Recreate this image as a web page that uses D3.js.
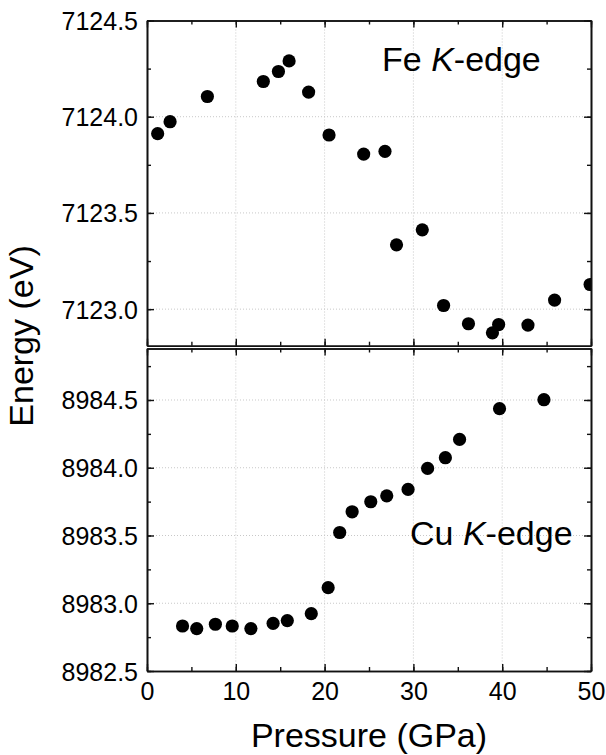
<!DOCTYPE html>
<html>
<head>
<meta charset="utf-8">
<script src="https://cdn.jsdelivr.net/npm/d3@7"></script>
<style>
  body { margin: 0; background: #fff; }
  text { font-family: "Liberation Sans", Arial, sans-serif; fill: #000; }
</style>
</head>
<body>
<div class="diagram"></div>
<script>
var width = 606, height = 755;

// DATA
var fePressure = [1.2, 2.6, 6.8, 13.1, 14.8, 16.0, 18.2, 20.5, 24.4, 26.8, 28.1, 31.0, 33.4, 36.2, 38.9, 39.6, 42.9, 45.9, 49.9];
var feEnergy = [7123.912, 7123.974, 7124.105, 7124.183, 7124.235, 7124.290, 7124.128, 7123.905, 7123.806, 7123.820,
                7123.334, 7123.412, 7123.019, 7122.924, 7122.877, 7122.920, 7122.917, 7123.047, 7123.128];

var cuPressure = [4.0, 5.6, 7.7, 9.6, 11.7, 14.2, 15.8, 18.5, 20.4, 21.7, 23.1, 25.2, 27.0, 29.4, 31.6, 33.6, 35.2, 39.7, 44.7];
var cuEnergy = [8982.832, 8982.813, 8982.845, 8982.832, 8982.813, 8982.852, 8982.872, 8982.923, 8983.115, 8983.522,
                8983.675, 8983.749, 8983.793, 8983.840, 8983.995, 8984.074, 8984.209, 8984.436, 8984.502];

var xTicks = [0, 10, 20, 30, 40, 50];
var feTicks = [7123.0, 7123.5, 7124.0, 7124.5];
var cuTicks = [8982.5, 8983.0, 8983.5, 8984.0, 8984.5];

var left = 147, right = 591;

var svg = d3.select('.diagram')
  .append('svg')
  .attr('width', width)
  .attr('height', height);

var x = d3.scaleLinear().domain([0, 50]).range([left, right]);

var yFe = d3.scaleLinear().domain([7122.81, 7124.5]).range([345.7, 20.5]);
var yCu = d3.scaleLinear().domain([8982.5, 8984.88]).range([671, 348.5]);

function panel (name, y, px, py, majorY, showX) {
  var top = y.range()[1], bottom = y.range()[0];
  var g = svg.append('g').attr('class', 'panel-' + name);

  g.append('clipPath')
    .attr('id', 'clip-' + name)
    .append('rect')
    .attr('x', left).attr('y', top)
    .attr('width', right - left).attr('height', bottom - top);

  // grid
  g.selectAll('.vgrid')
    .data(xTicks.slice(1, -1))
    .enter()
    .append('line')
    .attr('x1', function(d) { return x(d); })
    .attr('x2', function(d) { return x(d); })
    .attr('y1', top).attr('y2', bottom)
    .attr('stroke', '#c8c8c8')
    .attr('stroke-width', 1)
    .attr('stroke-dasharray', '1,2');

  g.selectAll('.hgrid')
    .data(majorY.filter(function(d) { return y(d) > top + 1 && y(d) < bottom - 1; }))
    .enter()
    .append('line')
    .attr('x1', left).attr('x2', right)
    .attr('y1', function(d) { return y(d); })
    .attr('y2', function(d) { return y(d); })
    .attr('stroke', '#c8c8c8')
    .attr('stroke-width', 1)
    .attr('stroke-dasharray', '1,2');

  // points
  g.append('g')
    .attr('clip-path', 'url(#clip-' + name + ')')
    .selectAll('circle')
    .data(px)
    .enter()
    .append('circle')
    .attr('cx', function(d) { return x(d); })
    .attr('cy', function(d, i) { return y(py[i]); })
    .attr('r', 6.6)
    .attr('fill', '#000');

  // axes, ticks pointing inside
  var xMinor = d3.range(0, 51, 5);
  var yMinor = d3.range(y.domain()[0], y.domain()[1], 0.25).map(function(d) { return d; });
  yMinor = d3.range(Math.ceil(y.domain()[0] * 4) / 4, y.domain()[1] + 0.001, 0.25);

  g.append('g')
    .attr('transform', 'translate(0,' + bottom + ')')
    .call(d3.axisBottom(x).tickValues(xMinor).tickSizeInner(-4).tickSizeOuter(0).tickFormat(''));
  g.append('g')
    .attr('transform', 'translate(0,' + bottom + ')')
    .call(d3.axisBottom(x).tickValues(xTicks).tickSizeInner(-7).tickSizeOuter(0)
      .tickFormat(showX ? d3.format('d') : ''));
  g.append('g')
    .attr('transform', 'translate(0,' + top + ')')
    .call(d3.axisTop(x).tickValues(xMinor).tickSizeInner(-4).tickSizeOuter(0).tickFormat(''));
  g.append('g')
    .attr('transform', 'translate(0,' + top + ')')
    .call(d3.axisTop(x).tickValues(xTicks).tickSizeInner(-7).tickSizeOuter(0).tickFormat(''));

  g.append('g')
    .attr('transform', 'translate(' + left + ',0)')
    .call(d3.axisLeft(y).tickValues(yMinor).tickSizeInner(-4).tickSizeOuter(0).tickFormat(''));
  g.append('g')
    .attr('class', 'yaxis')
    .attr('transform', 'translate(' + left + ',0)')
    .call(d3.axisLeft(y).tickValues(majorY).tickSizeInner(-7).tickSizeOuter(0).tickFormat(d3.format('.1f')));
  g.append('g')
    .attr('transform', 'translate(' + right + ',0)')
    .call(d3.axisRight(y).tickValues(yMinor).tickSizeInner(-4).tickSizeOuter(0).tickFormat(''));
  g.append('g')
    .attr('transform', 'translate(' + right + ',0)')
    .call(d3.axisRight(y).tickValues(majorY).tickSizeInner(-7).tickSizeOuter(0).tickFormat(''));

  g.selectAll('.domain').attr('stroke', '#111').attr('stroke-width', 1.6);
  g.selectAll('.tick line').attr('stroke', '#111').attr('stroke-width', 1.4);
  g.selectAll('.tick text')
    .attr('font-family', '"Liberation Sans", Arial, sans-serif')
    .attr('font-size', 25)
    .attr('fill', '#000');
  g.selectAll('.yaxis .tick text').attr('x', -9).attr('dy', '0.36em');

  return g;
}

panel('fe', yFe, fePressure, feEnergy, feTicks, false);
var cu = panel('cu', yCu, cuPressure, cuEnergy, cuTicks, true);
cu.selectAll('.tick text').filter(function() { return this.parentNode.parentNode.getAttribute('class') !== 'yaxis'; })
  .attr('y', 11);

// LABELS
function edgeLabel (el, tx, ty) {
  var t = svg.append('text')
    .attr('x', tx).attr('y', ty)
    .attr('font-size', 34);
  t.append('tspan').text(el + ' ');
  t.append('tspan').attr('font-style', 'italic').text('K');
  t.append('tspan').text('-edge');
}
edgeLabel('Fe', 382, 71);
edgeLabel('Cu', 410, 545);

svg.append('text')
  .attr('x', (left + right) / 2)
  .attr('y', 747)
  .attr('text-anchor', 'middle')
  .attr('font-size', 34)
  .text('Pressure (GPa)');

svg.append('text')
  .attr('transform', 'translate(33,336) rotate(-90)')
  .attr('text-anchor', 'middle')
  .attr('font-size', 34)
  .text('Energy (eV)');
</script>
</body>
</html>
